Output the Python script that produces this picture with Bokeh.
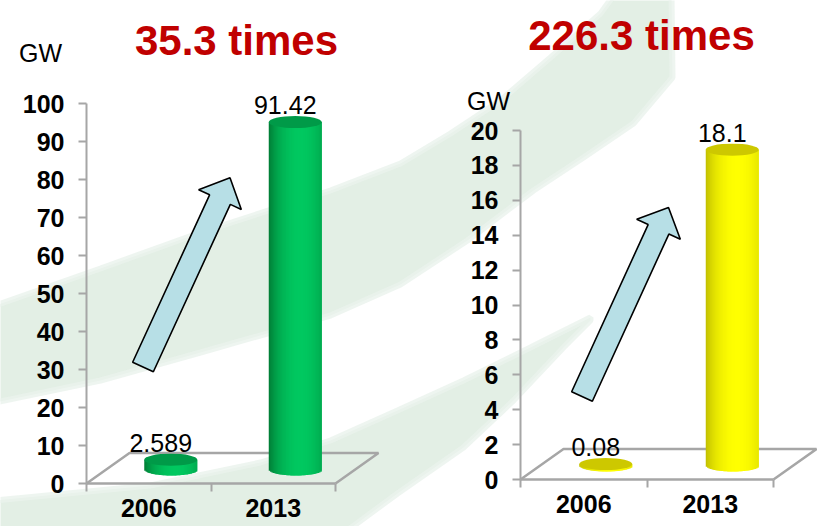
import numpy as np
from bokeh.plotting import figure
from bokeh.models import Range1d, LinearAxis, FixedTicker
from bokeh.core.properties import value
from bokeh.embed import file_html
from bokeh.resources import INLINE

# ---- data -------------------------------------------------------------
years = ["2006", "2013"]
wind_gw = [2.589, 91.42]
solar_gw = [0.08, 18.1]
wind_ticks = list(range(0, 101, 10))
solar_ticks = list(range(0, 21, 2))
wind_title = "35.3 times"
solar_title = "226.3 times"
unit_label = "GW"

# ---- canvas -----------------------------------------------------------
W, H = 817, 526
FONT = "Liberation Sans"

p = figure(width=W, height=H, x_range=Range1d(0, W), y_range=Range1d(H, 0),
           output_backend="svg", toolbar_location=None,
           x_axis_location=None, y_axis_location=None, min_border=0,
           outline_line_color=None, background_fill_color="white",
           border_fill_color="white")
p.grid.visible = False

# soft green swooshes in the background (pixel space)
band_a = [(-5, 305), (100, 268), (200, 232), (330, 190), (400, 163), (450, 133),
          (500, 100), (550, 57), (600, 13), (613, -5),
          (671, -5), (672, 77), (633, 123), (583, 157), (533, 190), (467, 240),
          (400, 284), (330, 315), (200, 352), (100, 380), (-5, 402)]
band_b = [(-5, 500), (150, 485), (260, 462), (330, 440), (397, 410), (463, 380),
          (530, 347), (590, 317),
          (590, 320), (563, 347), (513, 400), (463, 447), (397, 493), (340, 535),
          (-5, 535)]
for band in (band_a, band_b):
    bx, by = zip(*band)
    p.patch(list(bx), list(by), fill_color="#E3EFE5", fill_alpha=1.0,
            line_color="#EAF3EC", line_width=6, line_alpha=0.8)


def shade(c_dark, c_light, u):
    t = np.clip(1.0 - ((u - 0.2) / 1.2) ** 2, 0, 1) ** 0.8
    out = []
    for ti in t:
        rgb = [int(round(a + (b - a) * ti)) for a, b in zip(c_dark, c_light)]
        out.append("#%02x%02x%02x" % tuple(rgb))
    return out


def arrow(x0, y0, x1, y1, shaft_w, head_w, head_len):
    d = np.array([x1 - x0, y1 - y0], float)
    d /= np.hypot(*d)
    n = np.array([-d[1], d[0]])
    tail = np.array([x0, y0])
    tip = np.array([x1, y1])
    base = tip - d * head_len
    pts = [tail + n * shaft_w / 2, base + n * shaft_w / 2, base + n * head_w / 2,
           tip, base - n * head_w / 2, base - n * shaft_w / 2, tail - n * shaft_w / 2]
    return [q[0] for q in pts], [q[1] for q in pts]


def panel(name, vals, ticks, axis_px, zero_py, top_py, cat_end_px,
          c_dark, c_light, c_top, title, title_xy, unit_xy, arrow_pts):
    top_val = ticks[-1]
    ky = (zero_py - top_py) / top_val          # px per GW
    kx = (cat_end_px - axis_px) / 2.0          # px per category slot
    p.extra_y_ranges[name] = Range1d(start=-(H - zero_py) / ky, end=zero_py / ky)
    p.extra_x_ranges[name] = Range1d(start=-axis_px / kx, end=(W - axis_px) / kx)
    rk = dict(x_range_name=name, y_range_name=name)

    # 3-D floor
    fdx, fdy = 43 / kx, 30.5 / ky
    p.line([0, fdx, 2 + fdx, 2], [0, fdy, fdy, 0], line_color="#A6A6A6",
           line_width=2.5, **rk)

    # arrow
    ax, ay = arrow(*arrow_pts)
    p.patch(ax, ay, fill_color="#B7DFE6", line_color="black", line_width=1.6)

    # cylinders, shaded with overlapping vertical strips
    bar_w = 53 / kx
    ell_h = 12
    bdx, bdy = 22 / kx, 14 / ky
    N = 40
    edges = np.linspace(-1, 1, N + 1)
    u = 0.5 * (edges[:-1] + edges[1:])
    colors = shade(c_dark, c_light, u)
    right_idx = np.minimum(np.arange(N) + 2, N)
    for i, v in enumerate(vals):
        cx = i + 0.5 + bdx
        base = bdy
        top = v + bdy
        lefts = cx + edges[:-1] * bar_w / 2
        rights = cx + edges[right_idx] * bar_w / 2
        bottoms = base - (ell_h / 2) * np.sqrt(1 - u ** 2) / ky
        p.quad(left=lefts, right=rights, bottom=bottoms, top=[top] * N,
               fill_color=colors, line_color=None, **rk)
        p.ellipse(x=[cx], y=[top], width=[bar_w], height=[ell_h],
                  width_units="data", height_units="screen",
                  fill_color=c_top, line_color=None, **rk)
        label = ("%g" % v)
        p.text(x=[cx], y=[top], text=[label], x_offset=-10, y_offset=-17,
               text_font=value(FONT), text_font_size="25px", text_color="black",
               text_align="center", text_baseline="alphabetic", **rk)

    # value axis
    yax = LinearAxis(fixed_location=0, bounds=(0, top_val),
                     ticker=FixedTicker(ticks=ticks, minor_ticks=[]), **rk)
    yax.axis_line_color = "#A6A6A6"
    yax.axis_line_width = 2
    yax.major_tick_line_color = "#A6A6A6"
    yax.major_tick_line_width = 2
    yax.major_tick_out = 8
    yax.major_tick_in = 0
    yax.minor_tick_line_color = None
    yax.major_label_text_font = FONT
    yax.major_label_text_font_style = "bold"
    yax.major_label_text_font_size = "25px"
    yax.major_label_text_color = "black"
    yax.major_label_standoff = 14
    p.add_layout(yax, "left")

    # category boundaries
    xax = LinearAxis(fixed_location=0, bounds=(0, 2),
                     ticker=FixedTicker(ticks=[0, 1, 2], minor_ticks=[]),
                     major_label_overrides={0: "", 1: "", 2: ""}, **rk)
    xax.axis_line_color = "#A6A6A6"
    xax.axis_line_width = 2.5
    xax.major_tick_line_color = "#A6A6A6"
    xax.major_tick_line_width = 2
    xax.major_tick_out = 8
    xax.major_tick_in = 0
    xax.minor_tick_line_color = None
    p.add_layout(xax, "below")

    # category labels
    lax = LinearAxis(fixed_location=0,
                     ticker=FixedTicker(ticks=[0.5, 1.5], minor_ticks=[]),
                     major_label_overrides={0.5: years[0], 1.5: years[1]}, **rk)
    lax.axis_line_color = None
    lax.major_tick_line_color = None
    lax.minor_tick_line_color = None
    lax.major_tick_out = 0
    lax.major_tick_in = 0
    lax.major_label_standoff = 15
    lax.major_label_text_font = FONT
    lax.major_label_text_font_style = "bold"
    lax.major_label_text_font_size = "25px"
    lax.major_label_text_color = "black"
    p.add_layout(lax, "below")

    # title and unit
    p.text(x=[title_xy[0]], y=[title_xy[1]], text=[title], text_font=value(FONT),
           text_font_style="bold", text_font_size="42px", text_color="#C00000",
           text_align="center", text_baseline="alphabetic")
    p.text(x=[unit_xy[0]], y=[unit_xy[1]], text=[unit_label], text_font=value(FONT),
           text_font_size="25px", text_color="black", text_align="center",
           text_baseline="alphabetic")


panel("wind", wind_gw, wind_ticks, axis_px=86, zero_py=483, top_py=103,
      cat_end_px=335, c_dark=(0, 122, 52), c_light=(0, 200, 96),
      c_top="#009a48", title=wind_title, title_xy=(236, 40), unit_xy=(40, 52),
      arrow_pts=(142.5, 366.5, 229.5, 177.3, 22.8, 47, 24))

panel("solar", solar_gw, solar_ticks, axis_px=520, zero_py=479, top_py=130,
      cat_end_px=773, c_dark=(190, 188, 0), c_light=(255, 255, 0),
      c_top="#cdc800", title=solar_title, title_xy=(641, 35), unit_xy=(488, 100),
      arrow_pts=(581.5, 396, 668, 207, 22.8, 48, 24))

open("out.html", "w").write(file_html(p, INLINE))
